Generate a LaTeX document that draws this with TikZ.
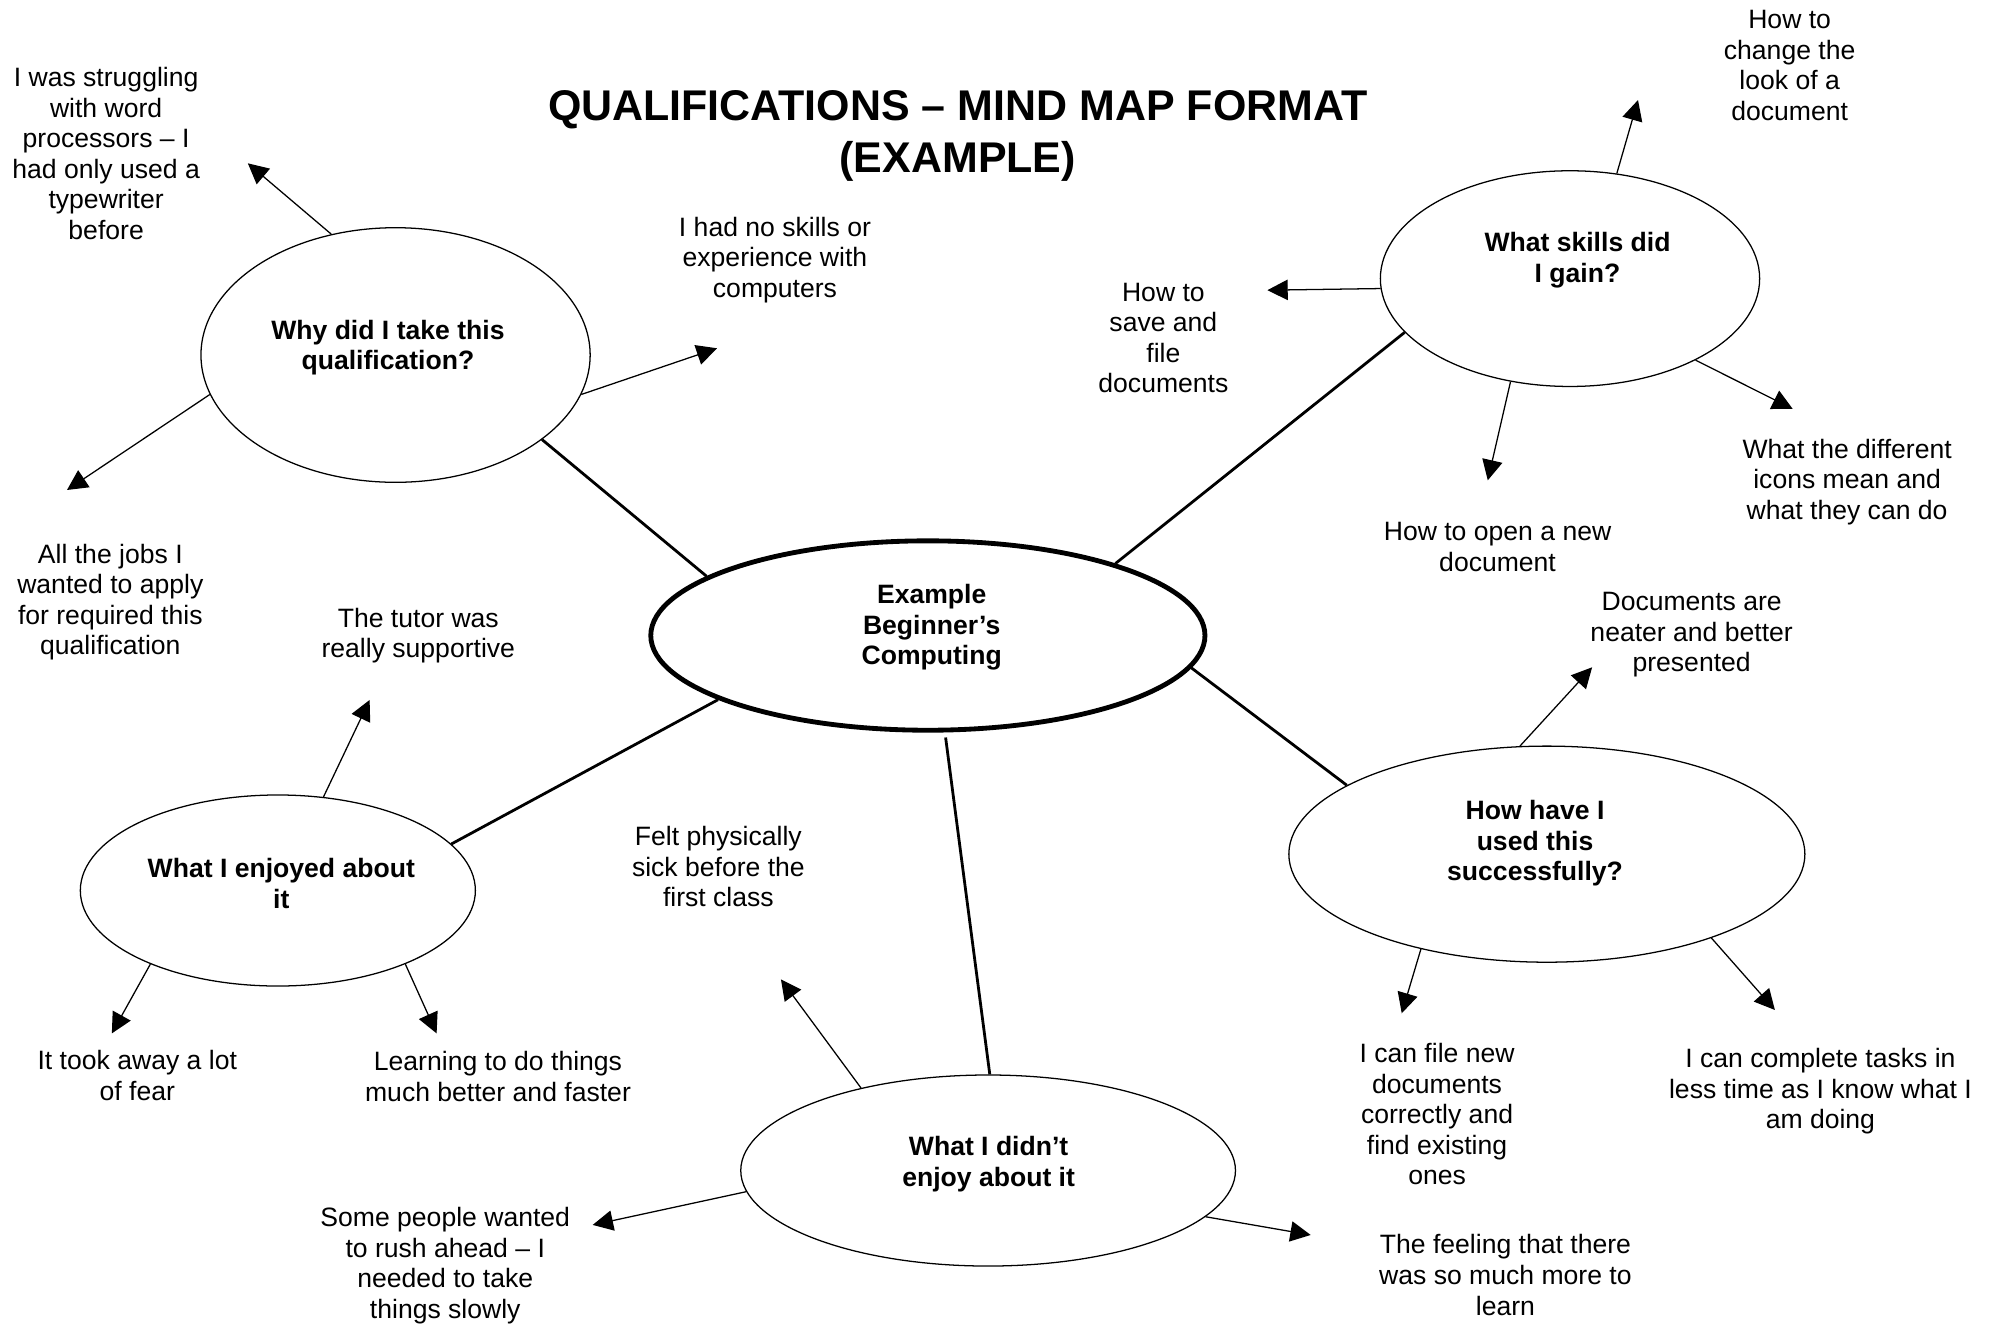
\documentclass[tikz,border=0pt]{standalone}
\usepackage{fontspec}
\setmainfont{Liberation Sans}
\usetikzlibrary{shapes.geometric}
\usetikzlibrary{arrows.meta}

\begin{document}
\begin{tikzpicture}[
    x=1pt, y=-1pt,
    every node/.style = {
        align=center, inner sep=0pt, font=\fontsize{20.9}{24}\selectfont
    },
    banner/.style = {font=\fontsize{33.8}{40.7}\selectfont\bfseries},
    heading/.style = {font=\fontsize{20.9}{24}\selectfont\bfseries},
    hub/.style = {draw, ellipse, line width=3.8pt},
    topic/.style = {draw, ellipse, line width=1pt},
    spoke/.style = {line width=2.2pt},
    pointer/.style = {line width=1pt, -{Triangle[length=16pt, width=16pt]}}
]
\path[use as bounding box, fill=white] (0,0) rectangle (1568,1042);

\node[banner] (title) at (753.5,106.9) {QUALIFICATIONS – MIND MAP FORMAT\\(EXAMPLE)};

\node[hub, minimum width=436pt, minimum height=149pt] (core) at (730,500) {};
\node[heading] (coretext) at (733,493.5) {Example\\Beginner’s\\Computing};

\node[topic, minimum width=306.2pt, minimum height=200.3pt] (why) at (311.2,279.3) {};
\node[heading] (whytext) at (305.2,273.3) {Why did I take this\\qualification?};
\node[topic, minimum width=298.4pt, minimum height=169.7pt] (skills) at (1235.2,219.2) {};
\node[heading] (skillstext) at (1241.1,204.8) {What skills did\\I gain?};
\node[topic, minimum width=310.8pt, minimum height=150.3pt] (enjoy) at (218.6,700.6) {};
\node[heading] (enjoytext) at (221.3,694.9) {What I enjoyed about\\it};
\node[topic, minimum width=389.2pt, minimum height=150.3pt] (dislike) at (777.4,920.9) {};
\node[heading] (disliketext) at (777.8,915.9) {What I didn’t\\enjoy about it};
\node[topic, minimum width=406pt, minimum height=170pt] (used) at (1217,672) {};
\node[heading] (usedtext) at (1207.7,663.7) {How have I\\used this\\successfully?};

\draw[spoke] (why.-30) -- (core.165);
\draw[spoke] (skills.198) -- (core.21);
\draw[spoke] (enjoy.15) -- (core.197);
\draw[spoke, shorten >=4pt] (dislike.89) -- (core.-80);
\draw[spoke] (used.161) -- (core.-7);

\node (struggle) at (83.5,120.7) {I was struggling\\with word\\processors – I\\had only used a\\typewriter\\before};
\node (noskills) at (609.7,204.6) {I had no skills or\\experience with\\computers};
\node (jobs) at (86.8,473.6) {All the jobs I\\wanted to apply\\for required this\\qualification};
\node (look) at (1408,51.7) {How to\\change the\\look of a\\document};
\node (save) at (915.3,265.9) {How to\\save and\\file\\documents};
\node (open) at (1178.2,430.5) {How to open a new\\document};
\node (icons) at (1453.2,379.2) {What the different\\icons mean and\\what they can do};
\node (tutor) at (329.1,500.1) {The tutor was\\really supportive};
\node (fear) at (108,846) {It took away a lot\\of fear};
\node (faster) at (391.8,847) {Learning to do things\\much better and faster};
\node (sick) at (565.2,681.8) {Felt physically\\sick before the\\first class};
\node (rush) at (350.3,995.9) {Some people wanted\\to rush ahead – I\\needed to take\\things slowly};
\node (more) at (1184.4,1003.1) {The feeling that there\\was so much more to\\learn};
\node (neater) at (1330.9,499.6) {Documents are\\neater and better\\presented};
\node (file) at (1130.6,876.5) {I can file new\\documents\\correctly and\\find existing\\ones};
\node (tasks) at (1432.2,858.8) {I can complete tasks in\\less time as I know what I\\am doing};

\coordinate (tipstruggle) at (195,128.5);
\coordinate (tipnoskills) at (564.1,274);
\coordinate (tipjobs) at (52.7,385.5);
\coordinate (tiplook) at (1288.7,78.7);
\coordinate (tipsave) at (997.1,228.3);
\coordinate (tipopen) at (1170.5,377.9);
\coordinate (tipicons) at (1410.4,321.7);
\coordinate (tiptutor) at (290.8,550.7);
\coordinate (tipfear) at (88,813);
\coordinate (tipfaster) at (343.5,813);
\coordinate (tipsick) at (614.4,770.5);
\coordinate (tiprush) at (466.3,963.7);
\coordinate (tipmore) at (1031.2,971.6);
\coordinate (tipneater) at (1252.6,525);
\coordinate (tipfile) at (1102.8,797.2);
\coordinate (tiptasks) at (1396.4,794.6);

\draw[pointer] (why.118) -- (tipstruggle);
\draw[pointer] (why.-12.5) -- (tipnoskills);
\draw[pointer] (why.192.4) -- (tipjobs);
\draw[pointer] (skills.66.9) -- (tiplook);
\draw[pointer] (skills.183.4) -- (tipsave);
\draw[pointer] (skills.240.5) -- (tipopen);
\draw[pointer] (skills.-33.2) -- (tipicons);
\draw[pointer] (enjoy.64.6) -- (tiptutor);
\draw[pointer] (enjoy.210.7) -- (tipfear);
\draw[pointer] (enjoy.-30.2) -- (tipfaster);
\draw[pointer] (dislike.147.8) -- (tipsick);
\draw[pointer] (dislike.185.7) -- (tiprush);
\draw[pointer] (dislike.-12.6) -- (tipmore);
\draw[pointer] (used.104.6) -- (tipneater);
\draw[pointer] (used.217.9) -- (tipfile);
\draw[pointer] (used.-27.7) -- (tiptasks);
\end{tikzpicture}
\end{document}
